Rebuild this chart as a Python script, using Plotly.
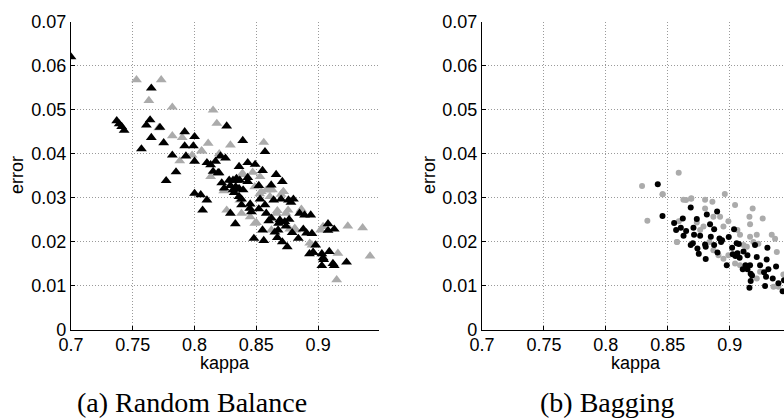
import plotly.graph_objects as go

# ---------------- Random Balance (triangles) ----------------
rb_black_kappa = [
    0.700, 0.737, 0.739, 0.741, 0.743, 0.765, 0.764, 0.761, 0.765, 0.757,
    0.772, 0.775, 0.782, 0.785, 0.777, 0.792, 0.792, 0.793, 0.800, 0.799,
    0.800, 0.800, 0.805, 0.8065, 0.810, 0.810, 0.813, 0.815, 0.819, 0.817,
    0.821, 0.825, 0.826, 0.822, 0.824, 0.828, 0.829, 0.829, 0.833, 0.832,
    0.834, 0.836, 0.836, 0.838, 0.839, 0.836, 0.838, 0.843, 0.843, 0.843,
    0.845, 0.846, 0.848, 0.849, 0.852, 0.852, 0.853, 0.855, 0.855, 0.856,
    0.857, 0.857, 0.858, 0.860, 0.862, 0.864, 0.866, 0.865, 0.867, 0.868,
    0.871, 0.870, 0.871, 0.873, 0.874, 0.875, 0.876, 0.878, 0.880, 0.879,
    0.884, 0.885, 0.888, 0.889, 0.894, 0.893, 0.895, 0.896, 0.898, 0.903,
    0.903, 0.904, 0.909, 0.908, 0.908, 0.912, 0.913, 0.913, 0.923, 0.8311,
    0.8339, 0.8366, 0.8311, 0.8333, 0.8393, 0.8447, 0.8622, 0.869, 0.8676, 0.8765,
    0.8906, 0.8959, 0.8198, 0.9045,
]
rb_black_error = [
    0.0620, 0.0475, 0.0468, 0.0462, 0.0453, 0.0549, 0.0477, 0.0465, 0.0437, 0.0411,
    0.0460, 0.0425, 0.0397, 0.0359, 0.0339, 0.0450, 0.0418, 0.0395, 0.0439, 0.0418,
    0.0383, 0.0310, 0.0307, 0.0272, 0.0295, 0.0380, 0.0375, 0.0360, 0.0357, 0.0383,
    0.0395, 0.0390, 0.0463, 0.0334, 0.0322, 0.0340, 0.0328, 0.0265, 0.0241, 0.0312,
    0.0340, 0.0321, 0.0303, 0.0297, 0.0430, 0.0371, 0.0284, 0.0380, 0.0346, 0.0337,
    0.0286, 0.0268, 0.0208, 0.0376, 0.0275, 0.0328, 0.0297, 0.0227, 0.0362, 0.0203,
    0.0405, 0.0284, 0.0265, 0.0248, 0.0329, 0.0295, 0.0353, 0.0222, 0.0210, 0.0242,
    0.0337, 0.0297, 0.0200, 0.0246, 0.0236, 0.0189, 0.0295, 0.0290, 0.0297, 0.0221,
    0.0208, 0.0265, 0.0229, 0.0261, 0.0261, 0.0173, 0.0219, 0.0176, 0.0193, 0.0173,
    0.0146, 0.0164, 0.0178, 0.0241, 0.0226, 0.0151, 0.0229, 0.0146, 0.0154, 0.0340,
    0.0344, 0.0340, 0.0318, 0.0325, 0.0318, 0.0276, 0.0254, 0.0250, 0.0227, 0.0251,
    0.0220, 0.0176, 0.0357, 0.0160,
]
rb_gray_kappa = [
    0.753, 0.773, 0.763, 0.782, 0.782, 0.790, 0.788, 0.771, 0.798, 0.806,
    0.811, 0.815, 0.818, 0.820, 0.829, 0.813, 0.826, 0.839, 0.856, 0.847,
    0.845, 0.850, 0.854, 0.861, 0.863, 0.867, 0.870, 0.872, 0.874, 0.877,
    0.882, 0.886, 0.895, 0.904, 0.924, 0.936, 0.942, 0.916, 0.915, 0.902,
    0.853, 0.858, 0.838, 0.8056, 0.8388, 0.8236, 0.8487, 0.8527, 0.8608, 0.8717,
    0.8487, 0.8622, 0.8663, 0.8757, 0.8865, 0.8811, 0.8932, 0.8366,
]
rb_gray_error = [
    0.0568, 0.0568, 0.0521, 0.0506, 0.0441, 0.0437, 0.0384, 0.0459, 0.0397, 0.0406,
    0.0424, 0.0499, 0.0469, 0.0400, 0.0420, 0.0348, 0.0272, 0.0353, 0.0426, 0.0358,
    0.0257, 0.0244, 0.0314, 0.0303, 0.0318, 0.0271, 0.0308, 0.0314, 0.0265, 0.0229,
    0.0227, 0.0272, 0.0193, 0.0235, 0.0236, 0.0232, 0.0168, 0.0174, 0.0114, 0.0227,
    0.0348, 0.0318, 0.0265, 0.0407, 0.0356, 0.0316, 0.0325, 0.0309, 0.0318, 0.0314,
    0.0242, 0.0227, 0.0265, 0.0272, 0.0274, 0.0231, 0.0197, 0.0295,
]

# ---------------- Bagging (dots) ----------------
bag_black_kappa = [
    0.8419, 0.8457, 0.8685, 0.8898, 0.8621, 0.8734, 0.8815, 0.8551, 0.8605, 0.8567,
    0.8648, 0.8627, 0.8707, 0.8841, 0.8874, 0.8761, 0.8712, 0.8847, 0.8917, 0.8938,
    0.8992, 0.9035, 0.8702, 0.8685, 0.8739, 0.8801, 0.8806, 0.8750, 0.8806, 0.8874,
    0.8901, 0.8930, 0.9056, 0.9073, 0.9019, 0.9024, 0.9046, 0.9062, 0.9080, 0.8976,
    0.9111, 0.9143, 0.9204, 0.9304, 0.9105, 0.9143, 0.9164, 0.9127, 0.9218, 0.9245,
    0.9298, 0.9169, 0.9180, 0.9169, 0.9159, 0.9277, 0.9312, 0.9293, 0.9285, 0.9374,
    0.9347, 0.9393, 0.9427, 0.9438,
]
bag_black_error = [
    0.0331, 0.0259, 0.0278, 0.0269, 0.0253, 0.0252, 0.0262, 0.0243, 0.0232, 0.0227,
    0.0225, 0.0214, 0.0232, 0.0240, 0.0229, 0.0214, 0.0216, 0.0212, 0.0208, 0.0204,
    0.0211, 0.0229, 0.0197, 0.0193, 0.0185, 0.0194, 0.0189, 0.0173, 0.0161, 0.0193,
    0.0176, 0.0200, 0.0197, 0.0195, 0.0187, 0.0172, 0.0168, 0.0174, 0.0164, 0.0147,
    0.0178, 0.0170, 0.0193, 0.0187, 0.0138, 0.0138, 0.0147, 0.0147, 0.0166, 0.0147,
    0.0160, 0.0128, 0.0124, 0.0111, 0.0096, 0.0131, 0.0138, 0.0121, 0.0100, 0.0144,
    0.0117, 0.0106, 0.0088, 0.0113,
]
bag_gray_kappa = [
    0.8292, 0.8335, 0.8459, 0.8588, 0.8575, 0.8647, 0.8688, 0.8457, 0.8626, 0.8690,
    0.8801, 0.8860, 0.8960, 0.9043, 0.9185, 0.9266, 0.9159, 0.9164, 0.8801, 0.8868,
    0.8922, 0.8989, 0.8589, 0.8573, 0.8734, 0.8761, 0.8788, 0.8949, 0.9062, 0.9083,
    0.9111, 0.9138, 0.9164, 0.9218, 0.9191, 0.9231, 0.9339, 0.9366, 0.9380, 0.8836,
    0.8868, 0.8909, 0.8949, 0.8989, 0.9043, 0.9083, 0.9245, 0.9218, 0.9353, 0.9433,
    0.9393,
]
bag_gray_error = [
    0.0327, 0.0248, 0.0308, 0.0357, 0.0200, 0.0295, 0.0298, 0.0308, 0.0296, 0.0299,
    0.0296, 0.0291, 0.0309, 0.0284, 0.0276, 0.0253, 0.0257, 0.0240, 0.0276, 0.0257,
    0.0257, 0.0247, 0.0247, 0.0200, 0.0244, 0.0227, 0.0235, 0.0235, 0.0227, 0.0216,
    0.0193, 0.0189, 0.0212, 0.0216, 0.0200, 0.0196, 0.0216, 0.0207, 0.0177, 0.0200,
    0.0181, 0.0170, 0.0162, 0.0170, 0.0151, 0.0147, 0.0132, 0.0117, 0.0098, 0.0126,
    0.0098,
]

x_ticks = [0.7, 0.75, 0.8, 0.85, 0.9]
x_tick_labels = ["0.7", "0.75", "0.8", "0.85", "0.9"]
y_ticks = [0, 0.01, 0.02, 0.03, 0.04, 0.05, 0.06, 0.07]
y_tick_labels = ["0", "0.01", "0.02", "0.03", "0.04", "0.05", "0.06", "0.07"]

GRAY = "#ababab"
SANS = "Liberation Sans, Arial, sans-serif"
SERIF = "Liberation Serif, Times New Roman, serif"
W, H = 784, 418

fig = go.Figure()

tri = dict(symbol="triangle-up", size=9.5, line=dict(width=0))
dot = dict(symbol="circle", size=6, line=dict(width=0))

fig.add_trace(go.Scatter(x=rb_gray_kappa, y=rb_gray_error, mode="markers",
                         marker=dict(color=GRAY, **tri), xaxis="x", yaxis="y"))
fig.add_trace(go.Scatter(x=rb_black_kappa, y=rb_black_error, mode="markers",
                         marker=dict(color="black", **tri), xaxis="x", yaxis="y"))
fig.add_trace(go.Scatter(x=bag_gray_kappa, y=bag_gray_error, mode="markers",
                         marker=dict(color=GRAY, **dot), xaxis="x2", yaxis="y2"))
fig.add_trace(go.Scatter(x=bag_black_kappa, y=bag_black_error, mode="markers",
                         marker=dict(color="black", **dot), xaxis="x2", yaxis="y2"))

y_dom = [88 / H, 396.3 / H]

common_x = dict(
    tickvals=x_ticks, ticktext=x_tick_labels, showgrid=True,
    gridcolor="#9a9a9a", griddash="1px,2px", gridwidth=1,
    showline=True, linecolor="black", linewidth=1.2,
    ticks="inside", ticklen=4, tickcolor="black", zeroline=False,
    automargin=False, ticklabelstandoff=-2,
    tickfont=dict(family=SANS, size=18, color="black"),
)
common_y = dict(
    tickvals=y_ticks, ticktext=y_tick_labels, range=[0, 0.07], showgrid=True,
    gridcolor="#9a9a9a", griddash="1px,2px", gridwidth=1,
    showline=True, linecolor="black", linewidth=1.2,
    ticks="inside", ticklen=4, tickcolor="black", zeroline=False,
    automargin=False,
    tickfont=dict(family=SANS, size=18, color="black"),
)

fig.update_layout(
    width=W, height=H,
    margin=dict(l=0, r=0, t=0, b=0, pad=0, autoexpand=False),
    paper_bgcolor="white", plot_bgcolor="white",
    showlegend=False,
    xaxis=dict(domain=[71 / W, 379.3 / W], range=[0.7, 0.9495], anchor="y", **common_x),
    yaxis=dict(domain=y_dom, anchor="x", **common_y),
    xaxis2=dict(domain=[482 / W, 1.0], range=[0.7, 0.9438], anchor="y2", **common_x),
    yaxis2=dict(domain=y_dom, anchor="x2", **common_y),
)

# axis titles and panel captions
labels = [
    dict(text="kappa", x=225 / W, y=(H - 363) / H, font=dict(family=SANS, size=18)),
    dict(text="kappa", x=636 / W, y=(H - 363) / H, font=dict(family=SANS, size=18)),
    dict(text="error", x=17 / W, y=(H - 175) / H, textangle=-90, font=dict(family=SANS, size=18)),
    dict(text="error", x=429 / W, y=(H - 175) / H, textangle=-90, font=dict(family=SANS, size=18)),
    dict(text="(a) Random Balance", x=192 / W, y=16 / H, font=dict(family=SERIF, size=28)),
    dict(text="(b) Bagging", x=607 / W, y=16 / H, font=dict(family=SERIF, size=28)),
]
for a in labels:
    a["font"]["color"] = "black"
    fig.add_annotation(xref="paper", yref="paper", showarrow=False,
                       xanchor="center", yanchor="middle", **a)

fig.write_html("out.html")
